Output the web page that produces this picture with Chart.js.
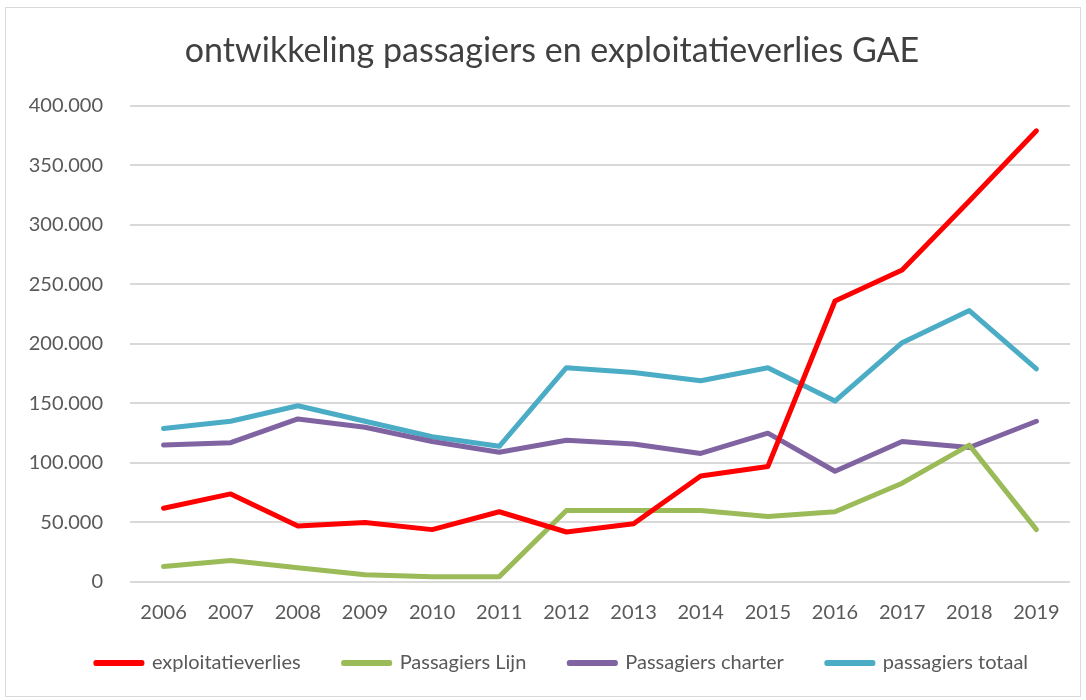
<!DOCTYPE html>
<html>
<head>
<meta charset="utf-8">
<script src="https://cdn.jsdelivr.net/npm/chart.js@4"></script>
<style>
  body { margin: 0; background: #fff; }
  #wrap { position: relative; width: 1086px; height: 700px; }
  #frame { position: absolute; left: 5px; top: 7px; width: 1074px; height: 688px; border: 1px solid #d9d9d9; pointer-events: none; }
</style>
</head>
<body>
<div id="wrap">
  <canvas id="lineChart" width="1086" height="700"></canvas>
  <div id="frame"></div>
</div>
<script>
/* ===== GAE passagiers chart ===== */

const years = ['2006', '2007', '2008', '2009', '2010', '2011', '2012', '2013', '2014', '2015', '2016', '2017', '2018', '2019'];

const exploitatieverlies = [62000, 74000, 47000, 50000, 44000, 59000, 42000, 49000, 89000, 97000, 236000, 262000, 320000, 379000];
const passagiersLijn = [13000, 18000, 12000, 6000, 4500, 4500, 60000, 60000, 60000, 55000, 59000, 83000, 115000, 44000];
const passagiersCharter = [115000, 117000, 137000, 130000, 118000, 109000, 119000, 116000, 108000, 125000, 93000, 118000, 113000, 135000];
const passagiersTotaal = [129000, 135000, 148000, 135000, 122000, 114000, 180000, 176000, 169000, 180000, 152000, 201000, 228000, 179000];

const fontFamily = 'Lato, "Open Sans", sans-serif';
const textColor = '#595959';

function formatNL(v) {
  return v === 0 ? '0' : v.toLocaleString('nl-NL');
}

function line(label, data, color) {
  return {
    label: label,
    data: data,
    borderColor: color,
    backgroundColor: color,
    borderWidth: 5,
    pointRadius: 0,
    tension: 0,
    borderCapStyle: 'round',
    borderJoinStyle: 'round'
  };
}

// nudge title and legend a bit to the right, like in the original Excel chart
const boxShift = {
  id: 'boxShift',
  afterLayout(chart) {
    const lg = chart.legend;
    lg.left += 27; lg.right += 27;
    lg.top -= 17; lg.bottom -= 17;
    const tb = chart.titleBlock;
    tb.left += 17; tb.right += 17;
  }
};

const ctx = document.getElementById('lineChart').getContext('2d');

new Chart(ctx, {
  type: 'line',
  data: {
    labels: years,
    datasets: [
      line('exploitatieverlies', exploitatieverlies, '#ff0000'),
      line('Passagiers Lijn', passagiersLijn, '#9bbb59'),
      line('Passagiers charter', passagiersCharter, '#8064a2'),
      line('passagiers totaal', passagiersTotaal, '#4bacc6')
    ]
  },
  plugins: [boxShift],
  options: {
    responsive: false,
    animation: false,
    layout: { padding: { left: 0, right: 16, top: 0, bottom: 0 } },
    plugins: {
      title: {
        display: true,
        text: 'ontwikkeling passagiers en exploitatieverlies GAE',
        color: '#404040',
        font: { family: fontFamily, size: 34, weight: 'normal' },
        padding: { top: 31, bottom: 34 }
      },
      legend: {
        position: 'bottom',
        labels: {
          color: textColor,
          boxWidth: 46,
          boxHeight: 1,
          padding: 43,
          font: { family: fontFamily, size: 20 }
        }
      },
      tooltip: { enabled: false }
    },
    scales: {
      x: {
        offset: true,
        afterFit: scale => { scale.height = 45; },
        grid: { display: false },
        border: { display: false },
        ticks: { color: textColor, padding: 11, font: { family: fontFamily, size: 20 } }
      },
      y: {
        min: 0,
        max: 400000,
        afterFit: scale => { scale.width = 130; },
        grid: { color: '#d9d9d9', lineWidth: 2, drawTicks: false },
        border: { display: false },
        ticks: {
          stepSize: 50000,
          padding: 27,
          color: textColor,
          font: { family: fontFamily, size: 20 },
          callback: v => formatNL(v)
        }
      }
    }
  }
});
</script>
</body>
</html>
